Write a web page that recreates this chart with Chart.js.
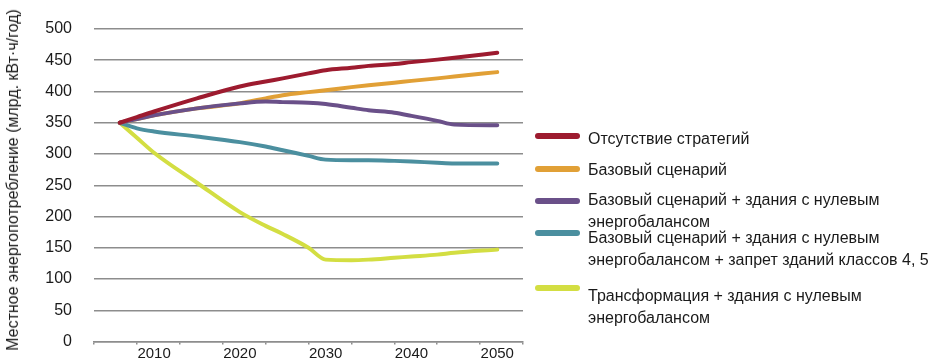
<!DOCTYPE html>
<html lang="ru">
<head>
<meta charset="utf-8">
<title>Местное энергопотребление</title>
<script src="https://cdn.jsdelivr.net/npm/chart.js@4/dist/chart.umd.min.js"></script>
<style>
  html, body { margin: 0; padding: 0; background: #fff; }
  #wrap { position: relative; width: 933px; height: 363px; overflow: hidden; }
  #chart { position: absolute; left: 0; top: 0; }
  #ytitle { position: absolute; left: 13px; top: 180px; transform: translate(-50%, -50%) rotate(-90deg);
            white-space: nowrap; font: 16px "Liberation Sans", Arial, sans-serif; color: #1a1a1a; line-height: 18px; }
  .lg-item { position: absolute; left: 535px; font: 16px "Liberation Sans", Arial, sans-serif; color: #1a1a1a; }
  .lg-sw { position: absolute; left: 0; width: 45px; height: 6px; border-radius: 3px; }
  .lg-line { position: absolute; left: 53px; white-space: nowrap; line-height: 20px; height: 20px; }
</style>
</head>
<body>
<div id="wrap">
  <canvas id="chart" width="933" height="363"></canvas>
  <div id="ytitle">Местное энергопотребление (млрд. кВт·ч/год)</div>
</div>
<script>
// Years at which each scenario is sampled
const years = [2006, 2008, 2010, 2015, 2020, 2023, 2025, 2028, 2030, 2033, 2035, 2038, 2040, 2043, 2045, 2050];

// Local energy consumption, bn kWh per year
const noPolicy      = [350, 359, 368, 389, 408, 416, 421, 429, 434, 438, 441, 444, 447, 451, 454, 462];
const baseline      = [350, 356, 362, 373, 381, 389, 394, 399, 402, 407, 410, 414, 417, 421, 424, 431];
const baselineNZEB  = [350, 356, 362, 373, 381, 384, 383, 382, 380, 374, 370, 366, 361, 353, 347, 346];
const baselineBan   = [350, 341, 336, 328, 319, 312, 306, 297, 291, 290, 290, 289, 288, 286, 285, 285];
const transformNZEB = [350, 326, 302, 254, 207, 185, 172, 150, 131, 130, 131, 134, 136, 139, 142, 147];

// Axis ticks: small marks every five years, labels every decade
const tickMarkYears = [2003, 2008, 2013, 2018, 2023, 2028, 2033, 2038, 2043, 2048, 2053];
const labelYears = [2010, 2020, 2030, 2040, 2050];
const yTicks = [0, 50, 100, 150, 200, 250, 300, 350, 400, 450, 500];

// Series names, split into the lines shown in the legend
const seriesNames = [
  ['Отсутствие стратегий'],
  ['Базовый сценарий'],
  ['Базовый сценарий + здания с нулевым', 'энергобалансом'],
  ['Базовый сценарий + здания с нулевым', 'энергобалансом + запрет зданий классов 4, 5'],
  ['Трансформация + здания с нулевым', 'энергобалансом']
];
const seriesValues = [noPolicy, baseline, baselineNZEB, baselineBan, transformNZEB];
const seriesColors = ['#9d1b2f', '#e1a036', '#6a5089', '#4b8f9f', '#d3de42'];
// drawing order: lower numbers are painted on top
const seriesOrder = [0, 2, 1, 3, 4];

const FONT = '"Liberation Sans", Arial, sans-serif';
const GRID = '#8d8d8d';
const CLEAR = 'rgba(0,0,0,0)';

const datasets = seriesValues.map((vals, i) => ({
  label: seriesNames[i].join(' '),
  data: years.map((y, k) => ({ x: y, y: vals[k] })),
  borderColor: seriesColors[i],
  backgroundColor: seriesColors[i],
  borderWidth: 4,
  borderCapStyle: 'round',
  borderJoinStyle: 'round',
  pointRadius: 0,
  cubicInterpolationMode: 'monotone',
  order: seriesOrder[i]
}));

const chart = new Chart(document.getElementById('chart'), {
  type: 'line',
  data: { datasets },
  options: {
    responsive: false,
    animation: false,
    layout: { padding: { top: 29, right: 410, left: 0, bottom: 0 } },
    plugins: { legend: { display: false }, tooltip: { enabled: false } },
    scales: {
      x: {
        type: 'linear',
        min: 2003,
        max: 2053,
        afterBuildTicks: (scale) => {
          const all = tickMarkYears.concat(labelYears).sort((a, b) => a - b);
          scale.ticks = all.map(v => ({ value: v }));
        },
        afterFit: (scale) => { scale.height = 21.5; },
        border: { display: true, color: GRID, width: 1.6 },
        grid: {
          drawOnChartArea: false,
          tickLength: 3,
          lineWidth: 1.5,
          tickColor: (ctx) => (ctx.tick && labelYears.includes(ctx.tick.value)) ? CLEAR : GRID
        },
        ticks: {
          autoSkip: false,
          maxRotation: 0,
          padding: 0,
          color: '#1a1a1a',
          font: { family: FONT, size: 15 },
          callback: (v) => labelYears.includes(v) ? String(v) : ''
        }
      },
      y: {
        min: 0,
        max: 500,
        afterBuildTicks: (scale) => { scale.ticks = yTicks.map(v => ({ value: v })); },
        afterFit: (scale) => { scale.width = 94; },
        border: { display: false },
        // invisible tick marks keep the labels clear of the plot
        grid: { color: GRID, lineWidth: 1.5, drawTicks: true, tickLength: 19, tickColor: CLEAR },
        ticks: {
          padding: 3,
          color: '#1a1a1a',
          font: { family: FONT, size: 16 }
        }
      }
    }
  }
});

// Legend built from the chart's datasets
const swatchY = [136, 169, 201, 233, 288];
const lineY = [[139], [170], [200, 222], [238, 260], [296, 318]];
const wrap = document.getElementById('wrap');
chart.data.datasets.forEach((ds, i) => {
  const item = document.createElement('div');
  item.className = 'lg-item';
  item.style.top = '0px';
  const sw = document.createElement('div');
  sw.className = 'lg-sw';
  sw.style.background = ds.borderColor;
  sw.style.top = (swatchY[i] - 3) + 'px';
  item.appendChild(sw);
  seriesNames[i].forEach((txt, j) => {
    const ln = document.createElement('div');
    ln.className = 'lg-line';
    ln.textContent = txt;
    ln.style.top = (lineY[i][j] - 10) + 'px';
    item.appendChild(ln);
  });
  wrap.appendChild(item);
});
</script>
</body>
</html>
